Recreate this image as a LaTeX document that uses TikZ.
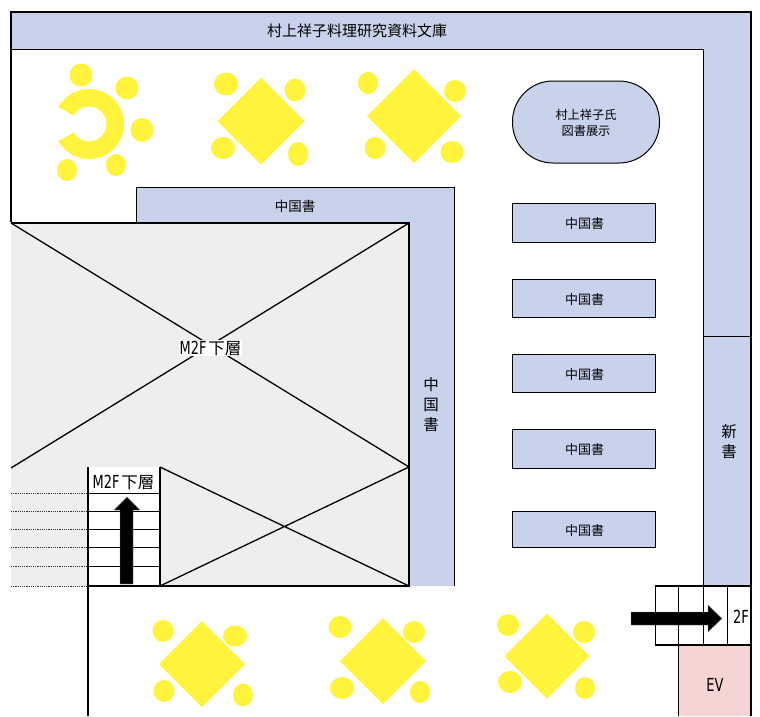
\documentclass[tikz,border=0pt]{standalone}
\usepackage{fontspec}
\usetikzlibrary{arrows.meta}
\setmainfont{Noto Sans CJK JP}
\newfontfamily\narrowlat[FakeStretch=0.72]{DejaVu Sans}
\definecolor{shelf}{HTML}{C8D2EA}
\definecolor{seat}{HTML}{FFF33B}
\definecolor{voidgray}{HTML}{EEEEEE}
\definecolor{evpink}{HTML}{F4D5D3}
\tikzset{
  x=1pt,y=-1pt,
  thinln/.style={draw=black,line width=1pt},
  wall/.style={draw=black,line width=2pt},
  stairln/.style={draw=black,line width=1pt},
  dotln/.style={draw=black!80,line width=1pt,dash pattern=on 1.2pt off 1pt},
  shelfbox/.style={fill=shelf,draw=black,line width=1pt},
  seatfill/.style={fill=seat,draw=none},
  lbl/.style={inner sep=0pt,font=\fontsize{13}{15}\selectfont,text=black,align=center},
  biglbl/.style={inner sep=0pt,font=\fontsize{15.5}{20}\selectfont,text=black,align=center},
  flow/.style={fill=black,draw=black!50,line width=.4pt},
}
\newcommand{\levelname}{{\narrowlat\fontsize{18}{18}\selectfont M2F}\,{\fontsize{16.5}{18}\selectfont 下層}}
\newcommand{\tablediamond}[3]{\fill[seatfill] (#1-#3,#2) -- (#1,#2-#3) -- (#1+#3,#2) -- (#1,#2+#3) -- cycle;}
\newcommand{\seatat}[4]{\fill[seatfill] (#1,#2) ellipse [x radius=#3,y radius=#4];}
\begin{document}
\begin{tikzpicture}
\useasboundingbox (0,0) rectangle (760,716);
% shelves along walls
\fill[shelf] (11,12) -- (751,12) -- (751,586) -- (703,586) -- (703,49) -- (11,49) -- cycle;
\draw[thinln] (11,49) -- (703,49) -- (703,586);
\draw[thinln] (703,336) -- (751,336);
\fill[shelf] (136,187) -- (454.5,187) -- (454.5,586) -- (409,586) -- (409,223) -- (136,223) -- cycle;
\draw[thinln] (136,223) -- (136,187) -- (454.5,187) -- (454.5,586);
% void
\fill[voidgray] (11,223) -- (409,223) -- (409,586) -- (11,586) -- cycle;
\fill[white] (88,467) rectangle (160,586);
% crossing lines
\coordinate (vTL) at (11,223);
\coordinate (vTR) at (409,223);
\coordinate (vML) at (11,468);
\coordinate (vMR) at (409,467);
\coordinate (sTL) at (160,467);
\coordinate (sBL) at (160,586);
\draw[thinln,line width=1.3pt] (vTL) -- (vMR) (vTR) -- (vML) (sTL) -- (409,586) (sBL) -- (vMR);
% stairs to M2F
\foreach \yy in {493,511.5,529,547.5,566,586}{
  \draw[dotln] (11,\yy) -- (87,\yy);
  \draw[stairln] (88,\yy) -- (160,\yy);
}
% walls
\draw[wall] (11,222) -- (11,12) -- (751,12) -- (751,716);
\draw[wall] (11,223) -- (409,223) -- (409,586) -- (88,586);
\draw[wall] (160,467) -- (160,586);
\draw[wall] (88,467) -- (88,716);
% C-shaped table and round seats
\fill[seatfill] (89,124) ++(151:35) arc [start angle=151,end angle=-151,radius=35]
  -- ++(29:17.5) arc [start angle=-151,end angle=151,radius=17.5] -- cycle;
\seatat{81}{75}{11.5}{11.5}
\seatat{127}{88}{11.5}{11.5}
\seatat{142}{130}{11.5}{12}
\seatat{67}{170}{10}{11}
\seatat{116}{165}{10}{11}
% diamond tables
\tablediamond{261}{121}{43.5}
\seatat{226}{84}{12}{11.5}
\seatat{295}{90}{10.5}{11.5}
\seatat{223}{148}{12}{11}
\seatat{298}{154}{10}{12}
\tablediamond{414}{116}{47}
\seatat{368}{83}{10}{11}
\seatat{455}{91}{11}{11}
\seatat{375}{148}{10.5}{11}
\seatat{452}{152}{11.5}{11}
\tablediamond{202}{664}{43}
\seatat{163}{631}{10.5}{11}
\seatat{235}{636}{12}{10.5}
\seatat{164}{691}{10.5}{11}
\seatat{243}{695}{10}{11.5}
\tablediamond{383}{661}{43}
\seatat{340}{627}{11.5}{11}
\seatat{414}{632}{11}{11}
\seatat{342}{688}{12}{11}
\seatat{420}{692}{10}{11}
\tablediamond{547}{656}{42.5}
\seatat{508}{625}{11}{11}
\seatat{584}{632}{11}{11}
\seatat{510}{682}{12}{11}
\seatat{585}{688}{10}{11}
% free standing shelves
\draw[shelfbox,rounded corners=40.5pt] (512.5,81) rectangle (659.5,163);
\node[lbl,font=\fontsize{12.2}{16}\selectfont] (display) at (586,122.5) {村上祥子氏\\図書展示};
\foreach \nm/\ya/\yb in {sa/203.5/242,sb/279.5/317,sc/354.5/392,sd/429.5/468,se/511.5/547}{
  \draw[shelfbox] (512.5,\ya) rectangle (655,\yb);
  \node[lbl,font=\fontsize{13}{14}\selectfont] (\nm) at (584.5,{(\ya+\yb)/2+1}) {中国書};
}
% shelf labels
\node[lbl,font=\fontsize{15}{17}\selectfont] (archive) at (357,31) {村上祥子料理研究資料文庫};
\node[lbl,font=\fontsize{13.5}{15}\selectfont] (cnTop) at (295,206) {中国書};
\node[biglbl,text width=20pt] (cnSide) at (431,404.5) {中\\国\\書};
\node[biglbl,text width=20pt] (newbk) at (729,441.5) {新\\書};
% level labels
\node[fill=white,inner sep=1pt,text=black] (levelA) at (210.5,348) {\levelname};
\node[inner sep=0pt,text=black] (levelB) at (123.5,482) {\levelname};
% stair 2F and EV
\fill[evpink] (678,645) rectangle (751,716);
\draw[thinln] (678,716) -- (678,645);
\draw[wall,line width=1.3pt] (655,586) -- (751,586) (655,645) -- (751,645);
\draw[thinln] (655,586) -- (655,645) (678,586) -- (678,645) (703,586) -- (703,645) (727,586) -- (727,645);
\draw[wall] (751,12) -- (751,716);
\node[inner sep=0pt,text=black] (twoF) at (741,616.5) {\narrowlat\fontsize{18}{18}\selectfont 2F};
\node[inner sep=0pt,text=black] (ev) at (715,684.5) {\narrowlat\fontsize{18}{18}\selectfont EV};
% direction arrows
\draw[flow] (120,584) -- (120,510) -- (114,510) -- (127,497) -- (140,510) -- (133,510) -- (133,584) -- cycle;
\draw[flow] (631,612) -- (708,612) -- (708,605) -- (722,618.5) -- (708,632) -- (708,625) -- (631,625) -- cycle;
\end{tikzpicture}
\end{document}
